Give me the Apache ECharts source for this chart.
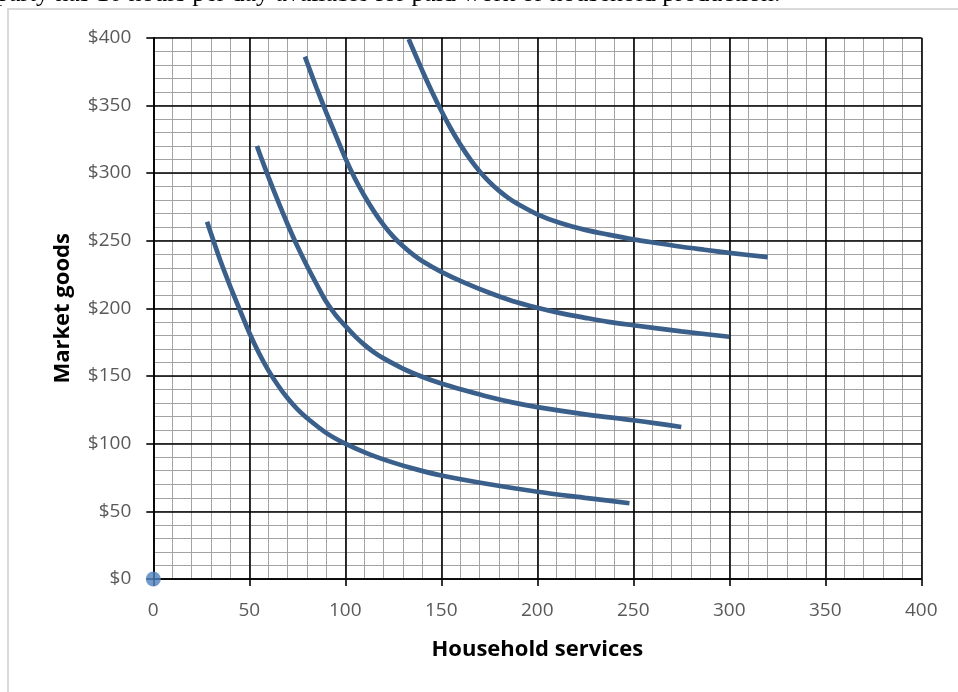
<!DOCTYPE html>
<html><head><meta charset="utf-8">
<script src="https://cdn.jsdelivr.net/npm/echarts@6/dist/echarts.min.js"></script>
<style>html,body{margin:0;padding:0;background:#fff;}#c{width:958px;height:692px;}</style>
</head><body><div id="c"></div>
<script>
const xTicks = [0, 50, 100, 150, 200, 250, 300, 350, 400];
const yTicks = [0, 50, 100, 150, 200, 250, 300, 350, 400];
const curve1 = [[28,264],[30,255.5],[35,235],[40,216.5],[45,199],[50,182],[55,167],[60,154],[65,143],[70,133.5],[75,125.5],[80,119],[90,108],[100,100],[112,92.5],[125,86],[137,81],[150,76.5],[175,70],[200,64.5],[225,60],[248,56]];
const curve2 = [[54,320],[56,312],[60,297],[65,279],[70,262],[75,246],[80,231.5],[85,218],[90,205],[95,195],[100,187],[105,179.5],[110,173],[115,167.5],[120,163],[130,155.5],[140,149.5],[150,144.5],[162,139.5],[175,134.5],[187,130.5],[200,127],[225,121.7],[250,117.3],[262,115],[275,112.3]];
const curve3 = [[79,386],[80,382],[85,363],[90,345],[95,328],[100,311],[105,296],[110,283],[115,271.5],[120,261.5],[125,253],[130,246],[135,240],[140,235],[150,227],[162,219],[175,211.5],[187,205.5],[200,200.5],[212,196.5],[225,193],[237,190],[250,187.5],[275,183],[300,179]];
const curve4 = [[133,399],[140,376],[145,360.5],[150,346],[155,332.7],[160,320.8],[165,310.3],[170,301.2],[175,293.5],[180,287],[185,281.5],[190,277],[200,269.5],[212,263],[225,258],[237,254.5],[250,251],[262,248.3],[275,245.5],[287,243.3],[300,241],[320,237.8]];
const originPoint = [[0,0]];
const topText = 'party has 10 hours per day available for paid work or household production.';

const chart = echarts.init(document.getElementById('c'), null, {renderer:'canvas'});
const lineColor = '#3a5f8b';
function curve(d){
  return {type:'line', data:d, smooth:0.3, showSymbol:false, symbol:'none',
    lineStyle:{color:lineColor, width:4.7, cap:'butt'}, z:5, animation:false};
}
const labelStyle = {color:'#595959', fontFamily:'Open Sans', fontSize:19};
const nameStyle = {color:'#000', fontFamily:'Open Sans', fontWeight:'bold', fontSize:22};
const majorCommon = {
  type:'value', min:0, max:400, interval:50, z:3,
  axisLine:{show:true, lineStyle:{color:'#000', width:1.6}},
  axisTick:{show:true, inside:false, length:7, lineStyle:{color:'#000', width:1.6}},
  splitLine:{show:true, lineStyle:{color:'#000', width:1.6}}
};
const minorCommon = {
  type:'value', min:0, max:400, interval:10, z:1,
  axisLine:{show:false}, axisTick:{show:false}, axisLabel:{show:false},
  splitLine:{show:true, lineStyle:{color:'#a3a3a3', width:1}}
};
chart.setOption({
  animation:false,
  grid:{left:153.3, right:36.7, top:37.7, bottom:113, containLabel:false},
  xAxis:[
    Object.assign({}, majorCommon, {
      name:'Household services', nameLocation:'middle', nameGap:60, nameTextStyle:nameStyle,
      axisLabel:Object.assign({}, labelStyle, {margin:22, formatter:v => xTicks.includes(v) ? String(v) : ''})
    }),
    Object.assign({}, minorCommon)
  ],
  yAxis:[
    Object.assign({}, majorCommon, {
      name:'Market goods', nameLocation:'middle', nameGap:80, nameRotate:90, nameTextStyle:nameStyle,
      axisLabel:Object.assign({}, labelStyle, {margin:22, formatter:v => yTicks.includes(v) ? '$' + v : ''})
    }),
    Object.assign({}, minorCommon)
  ],
  graphic:[
    {type:'rect', shape:{x:8, y:9, width:1000, height:1000}, style:{fill:'none', stroke:'#d9d9d9', lineWidth:2}, z:-10, silent:true},
    {type:'text', x:-4, y:7, style:{text:topText, fill:'#000', font:'25.8px "Liberation Serif"', textAlign:'left', verticalAlign:'bottom'}, z:10}
  ],
  series:[
    curve(curve1), curve(curve2), curve(curve3), curve(curve4),
    {type:'scatter', data:originPoint, symbol:'circle', symbolSize:15, itemStyle:{color:'#4f81bd'}, z:10, clip:false}
  ]
});
</script></body></html>
